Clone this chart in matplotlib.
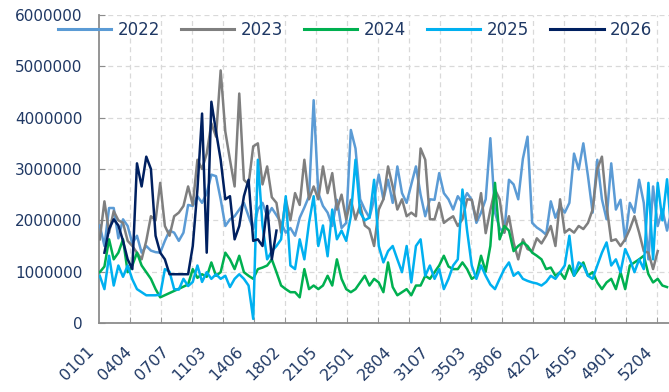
import numpy as np
import matplotlib
import matplotlib.pyplot as plt
import matplotlib.ticker as ticker
import matplotlib.transforms as mtransforms
matplotlib.use('Agg')

# Category axis: week + weekday code (0101 .. 5307)
categories = ['%02d%02d' % (w, d) for w in range(1, 54) for d in range(1, 8)]

step = 3            # values below are read every 3rd category
label_every = 24    # one tick label every 24 categories
grid_every = 20     # one vertical grid line every 20 categories

# Values in units of 10,000 (None = no data, line is joined across it)
v2022 = [190, 150, 224, 224, 165, 202, 189, 155, 170, 137,
         150, 141, 138, 137, 160, 180, 176, 160, 176, 230,
         228, 247, 234, 253, 289, 286, 241, 189, 202, 208,
         221, 234, 208, 183, 221, 234, 208, 224, 210, 195,
         176, 185, 170, 205, 225, 247, 434, 253, 228, 215,
         189, 240, 185, 195, 376, 340, 241, 221, 205, 241,
         289, 241, 279, 234, 305, 253, 234, 270, 305, 250,
         208, 241, 240, 292, 253, 241, 221, 247, 234, 253,
         240, 195, 215, 241, 360, 215, 185, 176, 279, 270,
         241, 320, 363, 195, 186, 180, 172, 237, 205, 228,
         215, 234, 330, 299, 350, 286, 215, 318, 241, 202,
         311, 221, 240, 160, 234, 215, 279, 234, 124, 266,
         189, 221, 180, 221]

v2023 = [163, 237, 176, 218, 200, 195, 160, 150, 137, 124,
         160, 208, 200, 273, 189, 170, 208, 215, 228, 266,
         230, 318, 300, 330, 389, 363, 492, 373, 318, 266,
         447, 279, 270, 344, 350, 270, 305, 245, 234, 176,
         241, 200, 253, 230, 318, 241, 266, 241, 305, 253,
         292, 221, 250, 202, 240, 202, 230, 190, 183, 150,
         221, 241, 305, 266, 221, 241, 208, 215, 208, 340,
         318, 202, 202, 234, 195, 202, 208, 189, 202, 241,
         240, 200, 253, 175, 220, 260, 241, 176, 208, 157,
         124, 163, 144, 140, 165, 155, 170, 189, 150, 241,
         176, 183, 176, 189, 183, 195, 221, 300, 324, 228,
         160, 163, 150, 163, 183, 208, 176, 140, 137, 105,
         140]

v2024 = [99, 110, 163, 124, 137, 163, 99, 112, 137, 112,
         99, 86, 66, 50, None, None, None, None, None, 75,
         105, 88, 95, 90, 118, 92, 99, 137, 124, 105,
         131, 99, 92, 86, 105, 108, 112, 124, 99, 73,
         66, 60, 60, 50, 105, 66, 73, 66, 73, 92,
         73, 124, 86, 66, 60, 66, 79, 92, 73, 86,
         79, 60, 118, 70, 54, 60, 66, 54, 73, 73,
         92, 86, 99, 112, 131, 110, 105, 105, 118, 105,
         86, 92, 131, 100, 150, 273, 163, 189, 180, 140,
         150, 157, 150, 137, 131, 124, 105, 108, 92, 99,
         86, 112, 92, 105, 118, 92, 99, 79, 66, 79,
         86, 66, 99, 66, 112, 118, 124, 131, 95, 79,
         86, 73, 70]

v2025 = [92, 66, 131, 73, 112, 90, 112, 85, 66, 60,
         54, 54, 54, 55, 105, 100, 66, 65, 86, 72,
         80, 112, 80, 99, 86, 95, 86, 92, 70, 86,
         95, 86, 73, 8, 318, 190, 124, 140, 150, 163,
         247, 112, 105, 163, 124, 195, 247, 150, 190, 130,
         221, 163, 180, 160, 208, 318, 215, 200, 205, 279,
         150, 118, 140, 150, 124, 99, 150, 79, 150, 163,
         92, 112, 86, 105, 66, 86, 112, 124, 260, 180,
         112, 86, 112, 92, 75, 66, 86, 105, 118, 92,
         99, 86, 82, 79, 77, 73, 80, 92, 86, 99,
         112, 170, 92, 118, 112, 92, 86, 112, 137, 157,
         112, 124, 99, 144, 124, 99, 124, 105, 273, 124,
         273, 200, 280, 170]

v2026 = [None, 137, 183, 202, 190, 160, 124, 105, 311, 266,
         324, 300, 170, 137, 124, 95, None, None, None, 95,
         150, 260, 408, 137, 431, 373, 318, 241, 247, 163,
         189, 247, 279, 160, 163, 150, 228, 124, 180]

series = [('2022', v2022, '#5B9BD5'),
          ('2023', v2023, '#7F7F7F'),
          ('2024', v2024, '#00B050'),
          ('2025', v2025, '#00B0F0'),
          ('2026', v2026, '#002060')]

text_color = '#1F3864'
axis_color = '#8C8C8C'
plt.rcParams['font.family'] = 'DejaVu Sans'

fig = plt.figure(figsize=(6.69, 3.92), dpi=100)
# plot area runs past the right edge, as in the cropped original
ax = fig.add_axes([99 / 669, 69 / 392, 575 / 669, 308 / 392])

for name, vals, color in series:
    y = np.array(vals, dtype=float)
    x = np.arange(len(y)) * step
    ok = ~np.isnan(y)
    ax.plot(x[ok], y[ok] * 1e4, color=color, linewidth=1.8, label=name,
            solid_joinstyle='round', zorder=3)

ax.set_xlim(-0.5, len(categories) - 0.5)
ax.set_ylim(0, 6000000)

# Y axis
ax.set_yticks(np.arange(0, 6000001, 1000000))
ax.yaxis.set_major_formatter(ticker.FuncFormatter(lambda v, p: '%d' % v))
ax.tick_params(axis='y', direction='in', length=4, color=axis_color,
               pad=12, labelsize=11, labelcolor=text_color)

# X axis: labels every 24 categories, grid every 20
label_pos = np.arange(0, len(categories), label_every)
ax.set_xticks(label_pos)
ax.set_xticklabels([categories[p] for p in label_pos], rotation=45,
                   ha='right', va='center', rotation_mode='anchor')
ax.tick_params(axis='x', which='major', length=0, pad=19, labelsize=11.5,
               labelcolor=text_color)
shift = mtransforms.ScaledTranslation(-8 / 100, 0, fig.dpi_scale_trans)
for lab in ax.get_xticklabels():
    lab.set_transform(lab.get_transform() + shift)

ax.set_xticks(np.arange(grid_every, len(categories), grid_every) - 0.5,
              minor=True)
ax.tick_params(axis='x', which='minor', direction='in', length=4,
               color=axis_color)

# Grid
ax.grid(which='major', axis='y', color='#D9D9D9', linestyle=(0, (4, 3)),
        linewidth=0.9, zorder=0)
ax.grid(which='minor', axis='x', color='#D9D9D9', linestyle=(0, (4, 3)),
        linewidth=0.9, zorder=0)

ax.spines['right'].set_visible(False)
ax.spines['top'].set_visible(False)
for s in ('left', 'bottom'):
    ax.spines[s].set_color(axis_color)
    ax.spines[s].set_linewidth(1.3)

leg = ax.legend(loc='center', bbox_to_anchor=(355 / 669, 1 - 30 / 392),
                bbox_transform=fig.transFigure, ncol=5, frameon=False,
                fontsize=12, handlelength=3.2, handletextpad=0.4,
                columnspacing=1.25, labelcolor=text_color)
for line in leg.get_lines():
    line.set_linewidth(2.2)

plt.savefig('out.png', dpi=100)
